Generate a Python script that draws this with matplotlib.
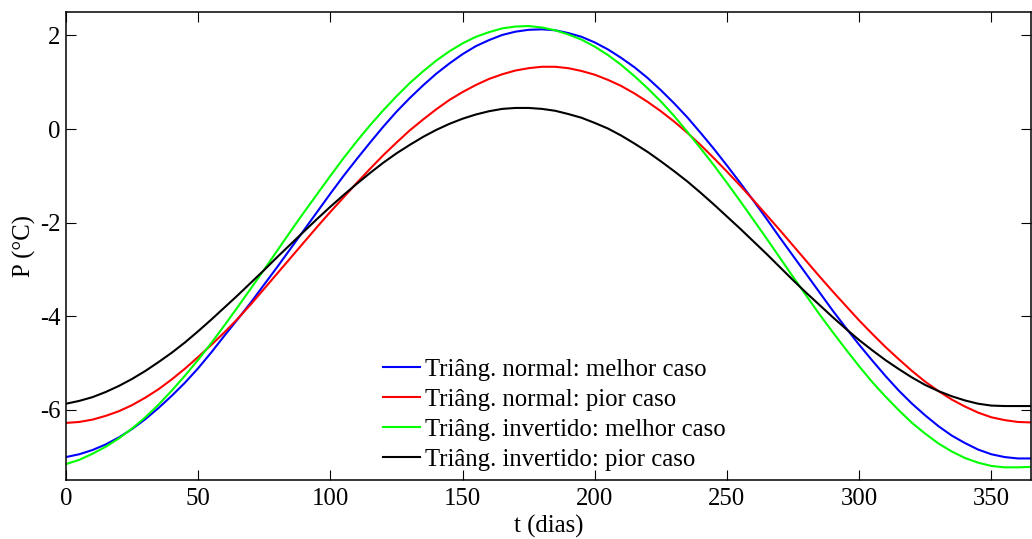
import numpy as np
import matplotlib.pyplot as plt

plt.rcParams['font.family'] = ['Liberation Serif', 'DejaVu Serif']
plt.rcParams['axes.unicode_minus'] = False

# dias (leitura a cada 5 dias)
t = [0, 5, 10, 15, 20, 25, 30, 35, 40, 45, 50, 55, 60, 65, 70, 75, 80, 85, 90, 95,
     100, 105, 110, 115, 120, 125, 130, 135, 140, 145, 150, 155, 160, 165, 170, 175, 180,
     185, 190, 195, 200, 205, 210, 215, 220, 225, 230, 235, 240, 245, 250, 255, 260, 265,
     270, 275, 280, 285, 290, 295, 300, 305, 310, 315, 320, 325, 330, 335, 340, 345, 350,
     355, 360, 365]

# Triang. normal: melhor caso
p_normal_melhor = [-7.01, -6.95, -6.86, -6.74, -6.59, -6.41, -6.20, -5.96, -5.70, -5.42,
                   -5.11, -4.77, -4.41, -4.06, -3.70, -3.32, -2.94, -2.55, -2.16, -1.77,
                   -1.38, -1.00, -0.64, -0.29, 0.05, 0.37, 0.66, 0.93, 1.18, 1.40,
                   1.60, 1.77, 1.90, 2.01, 2.08, 2.12, 2.13,
                   2.11, 2.05, 1.97, 1.85, 1.70, 1.52, 1.32, 1.09, 0.83, 0.55, 0.25,
                   -0.08, -0.42, -0.78, -1.15, -1.53, -1.92, -2.32, -2.71, -3.10, -3.49,
                   -3.88, -4.25, -4.61, -4.95, -5.28, -5.59, -5.87, -6.12, -6.35, -6.55,
                   -6.71, -6.85, -6.95, -7.01, -7.04, -7.04]

# Triang. normal: pior caso
p_normal_pior = [-6.28, -6.26, -6.21, -6.13, -6.03, -5.90, -5.74, -5.56, -5.35, -5.12,
                 -4.87, -4.61, -4.34, -4.05, -3.74, -3.41, -3.08, -2.75, -2.42, -2.09,
                 -1.77, -1.46, -1.15, -0.85, -0.56, -0.29, -0.03, 0.20, 0.42, 0.62,
                 0.79, 0.94, 1.07, 1.17, 1.25, 1.30, 1.33,
                 1.33, 1.30, 1.24, 1.16, 1.05, 0.92, 0.76, 0.58, 0.38, 0.16, -0.08,
                 -0.34, -0.62, -0.91, -1.21, -1.52, -1.84, -2.16, -2.49, -2.82, -3.15,
                 -3.47, -3.78, -4.09, -4.38, -4.66, -4.92, -5.17, -5.40, -5.60, -5.78,
                 -5.93, -6.06, -6.16, -6.22, -6.26, -6.27]

# Triang. invertido: melhor caso
p_invert_melhor = [-7.16, -7.07, -6.94, -6.79, -6.61, -6.40, -6.16, -5.89, -5.59, -5.27,
                   -4.93, -4.57, -4.19, -3.80, -3.40, -3.00, -2.59, -2.18, -1.78, -1.39,
                   -1.00, -0.62, -0.26, 0.08, 0.40, 0.70, 0.98, 1.23, 1.46, 1.66,
                   1.83, 1.97, 2.07, 2.15, 2.19, 2.20, 2.17,
                   2.11, 2.02, 1.91, 1.76, 1.58, 1.37, 1.13, 0.87, 0.59, 0.28, -0.06,
                   -0.41, -0.77, -1.15, -1.54, -1.94, -2.34, -2.75, -3.16, -3.56, -3.96,
                   -4.34, -4.71, -5.07, -5.41, -5.72, -6.01, -6.28, -6.51, -6.72, -6.89,
                   -7.03, -7.13, -7.20, -7.23, -7.23, -7.22]

# Triang. invertido: pior caso
p_invert_pior = [-5.87, -5.81, -5.73, -5.62, -5.49, -5.34, -5.17, -4.98, -4.78, -4.56,
                 -4.32, -4.07, -3.81, -3.55, -3.28, -3.01, -2.73, -2.46, -2.19, -1.92,
                 -1.66, -1.41, -1.17, -0.94, -0.72, -0.52, -0.34, -0.17, -0.02, 0.11,
                 0.22, 0.31, 0.38, 0.43, 0.45, 0.45, 0.43,
                 0.39, 0.32, 0.24, 0.13, 0.01, -0.14, -0.31, -0.49, -0.69, -0.90, -1.12,
                 -1.36, -1.61, -1.87, -2.13, -2.40, -2.67, -2.95, -3.23, -3.50, -3.76,
                 -4.02, -4.27, -4.51, -4.73, -4.94, -5.13, -5.31, -5.47, -5.60, -5.71,
                 -5.80, -5.87, -5.91, -5.92, -5.92, -5.92]

labels = ['Triâng. normal: melhor caso', 'Triâng. normal: pior caso',
          'Triâng. invertido: melhor caso', 'Triâng. invertido: pior caso']
cores = ['#0000ff', '#ff0000', '#00ff00', '#000000']

fig = plt.figure(figsize=(10.32, 5.39), dpi=100)
ax = fig.add_axes([0.064, 0.1095, 0.935, 0.8682])

series = [p_normal_melhor, p_normal_pior, p_invert_melhor, p_invert_pior]
for y, lab, c in zip(series, labels, cores):
    ax.plot(t, y, color=c, lw=1.5, label=lab)

ax.set_xlim(0, 365)
ax.set_ylim(-7.5, 2.5)
ax.set_xticks(np.arange(0, 351, 50))
ax.set_yticks([-6, -4, -2, 0, 2])
ax.tick_params(direction='in', length=7, width=0.8, top=True, right=True,
               labelsize=17.8)
ax.tick_params(axis='x', pad=6)
ax.tick_params(axis='y', pad=4)
for s in ax.spines.values():
    s.set_linewidth(1.1)

ax.set_xlabel('t (dias)', fontsize=17.8, labelpad=3)
ax.set_ylabel('P (°C)', fontsize=17.8, labelpad=3)

leg = ax.legend(loc='lower left', bbox_to_anchor=(0.3285, 0.02), frameon=False,
                fontsize=17.8, handlelength=1.5, handletextpad=0.2,
                labelspacing=0.31, borderpad=0, borderaxespad=0)

plt.savefig('out.png', dpi=100)
